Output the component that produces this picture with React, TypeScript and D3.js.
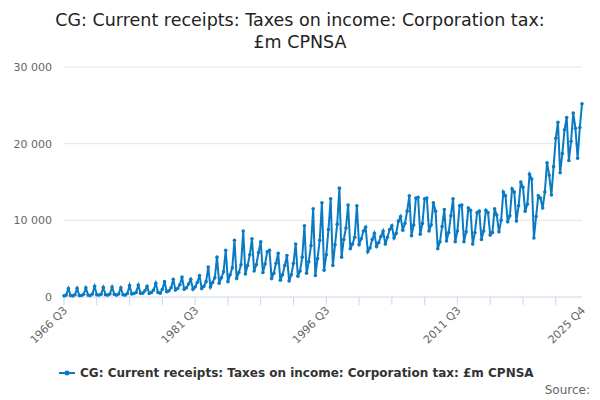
import React, { useEffect, useRef } from "react"
import * as d3 from "d3"

// quarterly values from 1966 Q3 to 2025 Q4, £m
const firstYear = 1966
const firstQuarter = 3
const values: number[] = [
  // 1966 (Q3, Q4)
  150, 250,
  // 1967-1975
  1100, 200, 150, 300,
  1150, 200, 200, 350,
  1200, 250, 200, 400,
  1400, 300, 250, 350,
  1250, 300, 250, 400,
  1300, 350, 250, 400,
  1200, 300, 250, 450,
  1500, 400, 450, 600,
  1550, 500, 500, 800,
  // 1976-1980
  1400, 450, 600, 900,
  1800, 600, 500, 1000,
  2000, 700, 800, 1200,
  2300, 900, 1100, 1600,
  2600, 1000, 1200, 1700,
  // 1981-1985
  2300, 1000, 1300, 1900,
  2800, 1100, 1400, 2000,
  3900, 1300, 1900, 2500,
  5200, 1800, 2500, 3300,
  6100, 2000, 2900, 3800,
  // 1986-1990
  7400, 2400, 3200, 4200,
  8600, 3000, 4100, 5500,
  7600, 3400, 4200, 5800,
  7200, 3200, 4300, 5900,
  6100, 2400, 3100, 4400,
  // 1991-1995
  5700, 2200, 2900, 4100,
  5400, 2100, 2900, 4400,
  6900, 2700, 3400, 5200,
  9300, 3100, 4600, 6700,
  11500, 2800, 5000, 7400,
  // 1996-2000
  12300, 3500, 5500, 8800,
  12800, 4100, 6800, 9500,
  14200, 5200, 7500, 9000,
  12000, 6300, 6900, 7800,
  11900, 6800, 7600, 8600,
  // 2001-2005
  9100, 5900, 6400, 7500,
  8300, 6600, 7100, 7900,
  8600, 6900, 7800, 8800,
  9300, 7700, 8300, 9900,
  10500, 8700, 9600, 11200,
  // 2006-2010
  13200, 8000, 9400, 12900,
  13000, 8200, 9600, 12800,
  12900, 8600, 9400, 12300,
  11200, 6300, 7200, 9200,
  11400, 7300, 8400, 10600,
  // 2011-2015
  12800, 7200, 8600, 11900,
  12000, 7200, 8500, 11600,
  11300, 6900, 8400, 11000,
  11200, 7500, 8600, 11300,
  11000, 8100, 8400, 11500,
  // 2016-2020
  10700, 8500, 10000, 13700,
  13200, 9800, 10600, 14100,
  13700, 9900, 11900, 15000,
  14300, 11200, 12100, 16000,
  15400, 7700, 10500, 13200,
  // 2021-2025
  12900, 11600, 13700, 17500,
  15900, 13300, 17000, 20700,
  22800, 16200, 18700, 21800,
  23400, 17800, 20300, 24000,
  22000, 18100, 22100, 25200,
]
const tickLabels = ["1966 Q3", "1981 Q3", "1996 Q3", "2011 Q3", "2025 Q4"]
const yTicks = [0, 10000, 20000, 30000]
const title = ["CG: Current receipts: Taxes on income: Corporation tax:", "£m CPNSA"]
const seriesName = "CG: Current receipts: Taxes on income: Corporation tax: £m CPNSA"

const color = "#0a7bc2"

function labelFor(i: number) {
  const q = firstQuarter - 1 + i
  return `${firstYear + Math.floor(q / 4)} Q${(q % 4) + 1}`
}

export default function App() {
  const ref = useRef<SVGSVGElement>(null)

  useEffect(() => {
    const svg = d3.select(ref.current)
    svg.selectAll("*").remove()
    const W = 600
    const H = 400
    const m = { left: 64, right: 18, top: 67, bottom: 103 }

    const x = d3.scaleLinear().domain([0, values.length - 1]).range([m.left, W - m.right])
    const y = d3.scaleLinear().domain([0, 30000]).range([H - m.bottom, m.top])

    svg.append("rect").attr("width", W).attr("height", H).attr("fill", "#fff")

    const t = svg.append("text").attr("text-anchor", "middle").attr("font-size", 17.5).attr("fill", "#222")
    title.forEach((line, i) =>
      t.append("tspan").attr("x", W / 2).attr("y", 26 + i * 22).text(line)
    )

    const fmt = (v: number) => d3.format(",")(v).replace(/,/g, " ")
    yTicks.forEach(v => {
      svg.append("line").attr("x1", m.left).attr("x2", W - m.right)
        .attr("y1", y(v)).attr("y2", y(v))
        .attr("stroke", v === 0 ? "#ccd6eb" : "#e6e6e6")
      svg.append("text").attr("x", m.left - 12).attr("y", y(v) + 4)
        .attr("text-anchor", "end").attr("font-size", 11).attr("fill", "#666").text(fmt(v))
    })

    // x ticks every 15 quarters plus label positions
    const tickIdx = d3.range(0, values.length, 15)
    tickIdx.forEach(i => {
      svg.append("line").attr("x1", x(i)).attr("x2", x(i))
        .attr("y1", y(0)).attr("y2", y(0) + 8).attr("stroke", "#ccd6eb")
    })
    const labelIdx = tickLabels.map(l => d3.range(values.length).find(i => labelFor(i) === l) ?? values.length - 1)
    labelIdx.forEach((i, k) => {
      svg.append("text")
        .attr("transform", `translate(${x(i) + 4},${y(0) + 14}) rotate(-45)`)
        .attr("text-anchor", "end").attr("font-size", 11).attr("fill", "#666")
        .text(tickLabels[k])
    })

    const line = d3.line<number>().x((_, i) => x(i)).y(d => y(d))
    svg.append("path").datum(values).attr("d", line)
      .attr("fill", "none").attr("stroke", color).attr("stroke-width", 2)
    svg.append("g").selectAll("circle").data(values).join("circle")
      .attr("cx", (_, i) => x(i)).attr("cy", d => y(d)).attr("r", 1.8).attr("fill", color)

    // legend
    const lg = svg.append("g")
    lg.append("line").attr("x1", 59).attr("x2", 75).attr("y1", 373).attr("y2", 373)
      .attr("stroke", color).attr("stroke-width", 2)
    lg.append("circle").attr("cx", 67).attr("cy", 373).attr("r", 2.5).attr("fill", color)
    lg.append("text").attr("x", 80).attr("y", 377).attr("font-size", 12)
      .attr("font-weight", "bold").attr("fill", "#333").text(seriesName)

    svg.append("text").attr("x", 590).attr("y", 394).attr("text-anchor", "end")
      .attr("font-size", 12).attr("fill", "#666").text("Source:")
  }, [])

  return (
    <svg ref={ref} width={600} height={400}
      style={{ position: "absolute", left: 0, top: 0, fontFamily: "'DejaVu Sans', sans-serif" }} />
  )
}
